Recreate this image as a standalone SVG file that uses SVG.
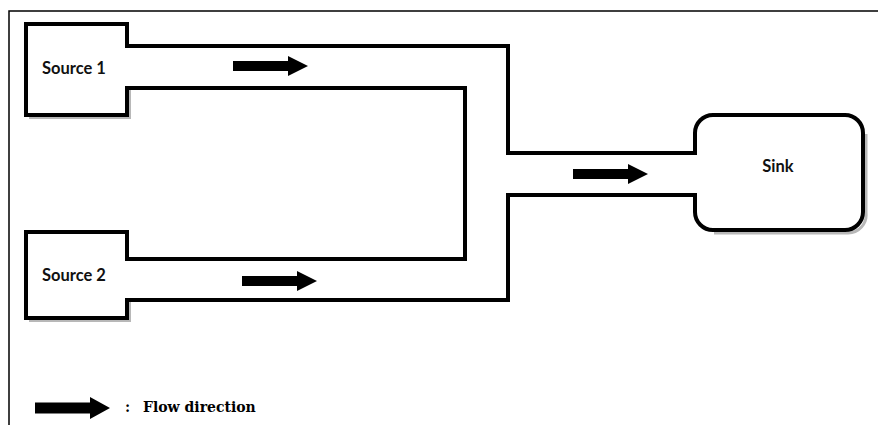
<svg xmlns="http://www.w3.org/2000/svg" width="878" height="425" viewBox="0 0 878 425">
  <style>
    .frame { fill: none; stroke: #000; stroke-width: 1.5; }
    .box { fill: none; stroke: #000; stroke-width: 4; stroke-linejoin: miter; }
    .shadow { fill: none; stroke: #b8b8b8; stroke-width: 3; }
    .pipe { fill: none; stroke: #000; stroke-width: 4; stroke-linejoin: miter; stroke-linecap: square; }
    .lbl { font-family: Lato, "Liberation Sans", sans-serif; font-weight: bold; font-size: 16.5px; fill: #111; }
    .legend { font-family: "DejaVu Serif", "Liberation Serif", serif; font-weight: bold; font-size: 14px; fill: #000; }
    .arrow { fill: #000; }
  </style>
  <defs>
    <path id="flow" d="M0,-5 H55 V-10 L75,0 L55,10 V5 H0 Z"/>
  </defs>
  <rect x="0" y="0" width="878" height="425" fill="#fff"/>
  <path class="frame" d="M9,430 V11 H880"/>

  <g id="connectors">
    <path class="pipe" d="M127,46 H508 V153 H695"/>
    <path class="pipe" d="M127,88 H465 V259 H127"/>
    <path class="pipe" d="M127,300 H508 V195 H695"/>
    <use href="#flow" class="arrow" x="233" y="66"/>
    <use href="#flow" class="arrow" x="242" y="281"/>
    <use href="#flow" class="arrow" x="573" y="174"/>
  </g>

  <g id="source1">
    <path class="shadow" d="M29,117.5 H129.5 V90"/>
    <path class="box" d="M127,46 V24 H26 V115 H127 V88"/>
    <text class="lbl" x="42" y="74">Source 1</text>
  </g>

  <g id="source2">
    <path class="shadow" d="M29,320.5 H129.5 V302"/>
    <path class="box" d="M127,259 V232 H26 V318 H127 V300"/>
    <text class="lbl" x="42" y="281">Source 2</text>
  </g>

  <g id="sink">
    <path class="shadow" d="M866,134 V213 A18,18 0 0 1 848,233 H714"/>
    <path class="box" d="M695,153 V133 A18,18 0 0 1 713,115 H845 A18,18 0 0 1 863,133 V212 A18,18 0 0 1 845,230 H713 A18,18 0 0 1 695,212 V195"/>
    <text class="lbl" x="778" y="172" text-anchor="middle">Sink</text>
  </g>

  <g id="legend">
    <path class="arrow" d="M35,402.5 H90 V397 L110,408 L90,419 V413.5 H35 Z"/>
    <text class="legend" x="125" y="412">:</text>
    <text class="legend" x="143" y="412">Flow direction</text>
  </g>
</svg>
